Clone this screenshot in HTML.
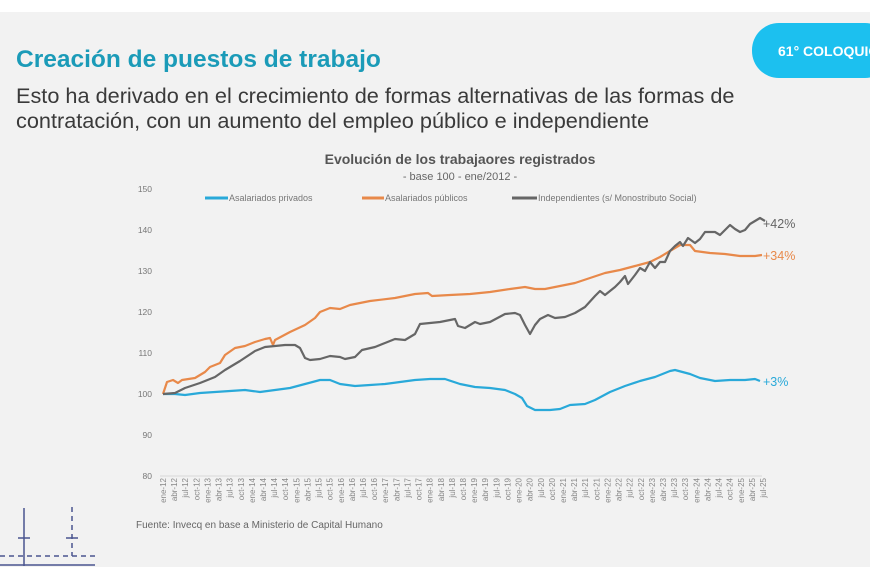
<!DOCTYPE html>
<html><head><meta charset="utf-8"><style>
body{margin:0;width:870px;height:580px;background:#fff;overflow:hidden;font-family:"Liberation Sans",sans-serif}
#bg{position:absolute;left:0;top:12px;width:870px;height:555px;background:#f2f2f2}
svg{position:absolute;left:0;top:0}
</style></head><body><div id="bg"></div>
<svg width="870" height="580" viewBox="0 0 870 580">
<rect x="752" y="23" width="140" height="55" rx="27" fill="#1cc0ef"/>
<text x="778" y="56" font-size="14" font-weight="bold" fill="#fff">61° COLOQUIO</text>
<text x="16" y="67" font-size="24.5" font-weight="bold" fill="#1b9bb8">Creación de puestos de trabajo</text>
<text x="16" y="103" font-size="21.7" fill="#3a3a3a">Esto ha derivado en el crecimiento de formas alternativas de las formas de</text>
<text x="16" y="128" font-size="21.7" fill="#3a3a3a">contratación, con un aumento del empleo público e independiente</text>
<text x="460" y="164" font-size="14" font-weight="bold" fill="#555" text-anchor="middle">Evolución de los trabajaores registrados</text>
<text x="460" y="180" font-size="11" fill="#666" text-anchor="middle">- base 100 - ene/2012 -</text>
<g font-size="8.5" fill="#777" text-anchor="end">
<text x="152" y="192">150</text><text x="152" y="233">140</text><text x="152" y="274">130</text><text x="152" y="315">120</text><text x="152" y="356">110</text><text x="152" y="397">100</text><text x="152" y="438">90</text><text x="152" y="479">80</text>
</g>
<line x1="160" y1="476" x2="762" y2="476" stroke="#d8d8d8" stroke-width="1"/>
<g font-size="9" fill="#777">
<line x1="205" y1="198" x2="228" y2="198" stroke="#29a9d9" stroke-width="3"/><text x="229" y="201">Asalariados privados</text>
<line x1="362" y1="198" x2="384" y2="198" stroke="#e8894a" stroke-width="3"/><text x="385" y="201">Asalariados públicos</text>
<line x1="512" y1="198" x2="537" y2="198" stroke="#666" stroke-width="3"/><text x="538" y="201">Independientes (s/ Monostributo Social)</text>
</g>
<g fill="none" stroke-width="2.2" stroke-linejoin="round">
<polyline stroke="#29a9d9" points="163,394 175,394 185,395 200,393 215,392 230,391 245,390 260,392 275,390 290,388 305,384 320,380 330,380 340,384 355,386 370,385 385,384 400,382 415,380 430,379 445,379 460,384 475,387 490,388 505,390 515,394 522,398 527,406 535,410 550,410 560,409 570,405 585,404 595,400 610,392 625,386 640,381 655,377 670,371 675,370 690,374 700,378 715,381 730,380 745,380 755,379 760,381"/>
<polyline stroke="#e8894a" points="163,394 167,382 173,380 178,383 182,380 195,378 205,372 210,367 220,363 225,355 235,348 245,346 255,342 265,339 270,338 273,345 275,340 290,332 305,325 315,318 320,312 330,308 340,309 350,305 370,301 395,298 415,294 428,293 432,296 450,295 470,294 490,292 510,289 525,287 535,289 545,289 560,286 575,283 590,278 605,273 620,270 635,266 650,262 660,257 670,251 680,245 690,245 695,251 710,253 725,254 740,256 755,256 762,255"/>
<polyline stroke="#666" points="163,394 175,393 185,388 200,383 215,377 225,370 240,361 255,351 265,347 275,346 285,345 295,345 300,348 305,358 310,360 320,359 330,356 340,357 345,359 355,357 362,350 375,347 385,343 395,339 405,340 415,334 420,324 440,322 455,319 458,326 465,328 470,325 475,322 480,324 490,322 505,314 515,313 520,315 525,325 530,334 535,325 540,319 548,315 555,318 565,317 575,313 585,307 595,296 600,291 605,295 615,287 620,282 625,276 628,284 635,275 640,268 645,271 650,262 655,268 660,262 665,262 670,251 675,246 680,242 683,246 688,238 695,243 700,239 705,232 715,232 720,235 725,230 730,225 735,229 740,232 745,230 750,224 760,218 765,221"/>
</g>
<text x="763" y="228" font-size="12.5" fill="#666">+42%</text>
<text x="763" y="260" font-size="12.5" fill="#e8894a">+34%</text>
<text x="763" y="386" font-size="12.5" fill="#29a9d9">+3%</text>
<g font-size="8" fill="#888" text-anchor="end" id="xl"></g>
<text x="136" y="528" font-size="10" fill="#666">Fuente: Invecq en base a Ministerio de Capital Humano</text>
<g stroke="#4a5590" stroke-width="1.5" fill="none">
<line x1="24" y1="508" x2="24" y2="566"/><line x1="18" y1="538" x2="30" y2="538"/>
<line x1="72" y1="507" x2="72" y2="556" stroke-dasharray="5,4"/><line x1="66" y1="538" x2="78" y2="538"/>
<line x1="0" y1="556" x2="95" y2="556" stroke-dasharray="5,4"/>
<line x1="0" y1="565" x2="95" y2="565"/>
</g>
</svg>
<script>
var m=["ene","abr","jul","oct"],g=document.getElementById("xl"),s="";
for(var i=0;i<55;i++){var y=12+Math.floor(i/4),x=163+i*600/54+3;
s+='<text transform="translate('+x.toFixed(1)+',478) rotate(-90)">'+m[i%4]+'-'+y+'</text>';}
g.innerHTML=s;
</script>
</body></html>
